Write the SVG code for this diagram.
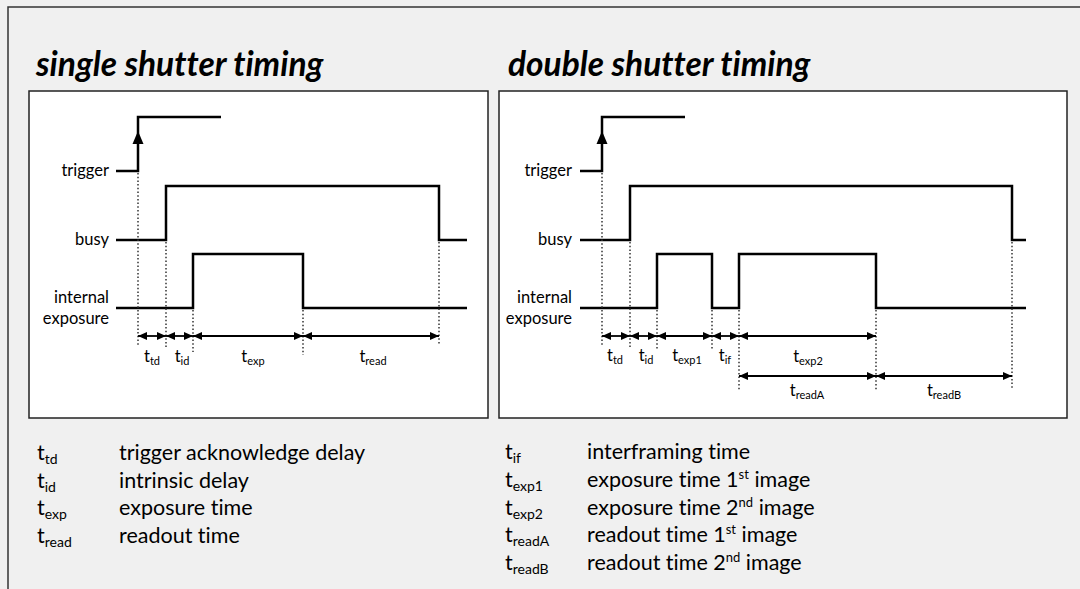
<svg xmlns="http://www.w3.org/2000/svg" width="1080" height="589" viewBox="0 0 1080 589">
  <defs>
    <!-- solid head for the dimension arrows, reused at both ends -->
    <marker id="head" viewBox="0 0 9 8" refX="9" refY="4" markerWidth="9" markerHeight="8" markerUnits="userSpaceOnUse" orient="auto-start-reverse">
      <path d="M0,0 L9,4 L0,8 z" fill="#000"/>
    </marker>
    <style>
      .bg { fill: #f0f0f0; }
      .frame { fill: none; stroke: #333; stroke-width: 1.5; }
      .panel { fill: #fff; stroke: #222; stroke-width: 1.5; }
      .sig { fill: none; stroke: #000; stroke-width: 2.5; stroke-linejoin: miter; }
      .dot { fill: none; stroke: #333; stroke-width: 1.5; stroke-dasharray: 1.5 2.2; }
      .dim { fill: none; stroke: #000; stroke-width: 1.8; marker-start: url(#head); marker-end: url(#head); }
      text { font-family: Lato, "Liberation Sans", sans-serif; fill: #000; font-variant-ligatures: none; }
      .title { font-size: 33.5px; font-weight: bold; font-style: italic; }
      .lab { font-size: 16.5px; text-anchor: end; }
      .tl { font-size: 16.5px; text-anchor: middle; }
      .sub { font-size: 11px; }
      .leg { font-size: 21.5px; }
      .lsub { font-size: 14px; }
      .sup { font-size: 13px; }
    </style>
  </defs>

  <rect class="bg" x="0" y="0" width="1080" height="589"/>
  <rect class="frame" x="8" y="7" width="1100" height="600"/>

  <text class="title" x="36" y="76">single shutter timing</text>
  <text class="title" x="508" y="76">double shutter timing</text>

  <!-- single shutter panel -->
  <g id="single-panel">
    <rect class="panel" x="29" y="91" width="459" height="327"/>
    <g id="single-trigger">
      <text class="lab" x="109" y="176">trigger</text>
      <path class="sig" d="M116,171 H138 V117 H221"/>
      <polygon points="138,131 132.5,144 143.5,144" fill="#000"/>
    </g>
    <g id="single-busy">
      <text class="lab" x="109" y="245">busy</text>
      <path class="sig" d="M116,240 H166 V186 H439 V240 H467"/>
    </g>
    <g id="single-exposure">
      <text class="lab" x="109" y="302.5">internal</text>
      <text class="lab" x="109" y="323.5">exposure</text>
      <path class="sig" d="M116,308 H193 V254 H303 V308 H467"/>
    </g>
    <g id="single-guides">
      <line class="dot" x1="138" y1="173" x2="138" y2="347"/>
      <line class="dot" x1="166" y1="242" x2="166" y2="348"/>
      <line class="dot" x1="193" y1="310" x2="193" y2="352"/>
      <line class="dot" x1="303" y1="310" x2="303" y2="355"/>
      <line class="dot" x1="439" y1="242" x2="439" y2="344"/>
    </g>
    <g id="single-labels">
      <text class="tl" x="152" y="362">t<tspan class="sub" dy="3">td</tspan></text>
      <text class="tl" x="182" y="362">t<tspan class="sub" dy="3">id</tspan></text>
      <text class="tl" x="253" y="362">t<tspan class="sub" dy="3">exp</tspan></text>
      <text class="tl" x="373" y="362">t<tspan class="sub" dy="3">read</tspan></text>
    </g>
  </g>

  <!-- double shutter panel -->
  <g id="double-panel">
    <rect class="panel" x="499" y="91" width="568" height="327"/>
    <g id="double-trigger">
      <text class="lab" x="572" y="176">trigger</text>
      <path class="sig" d="M580,171 H602 V117 H685"/>
      <polygon points="602,131 596.5,144 607.5,144" fill="#000"/>
    </g>
    <g id="double-busy">
      <text class="lab" x="572" y="245">busy</text>
      <path class="sig" d="M580,240 H630 V186 H1012 V240 H1026"/>
    </g>
    <g id="double-exposure">
      <text class="lab" x="572" y="302.5">internal</text>
      <text class="lab" x="572" y="323.5">exposure</text>
      <path class="sig" d="M580,308 H657 V254 H712 V308 H739 V254 H876 V308 H1026"/>
    </g>
    <g id="double-guides">
      <line class="dot" x1="602" y1="173" x2="602" y2="347"/>
      <line class="dot" x1="630" y1="242" x2="630" y2="348"/>
      <line class="dot" x1="657" y1="310" x2="657" y2="350"/>
      <line class="dot" x1="712" y1="310" x2="712" y2="350"/>
      <line class="dot" x1="739" y1="310" x2="739" y2="390"/>
      <line class="dot" x1="876" y1="310" x2="876" y2="390"/>
      <line class="dot" x1="1012" y1="242" x2="1012" y2="390"/>
    </g>
    <g id="double-labels">
      <text class="tl" x="615" y="361">t<tspan class="sub" dy="3">td</tspan></text>
      <text class="tl" x="646" y="361">t<tspan class="sub" dy="3">id</tspan></text>
      <text class="tl" x="687" y="361">t<tspan class="sub" dy="3">exp1</tspan></text>
      <text class="tl" x="725" y="361">t<tspan class="sub" dy="3">if</tspan></text>
      <text class="tl" x="808" y="362">t<tspan class="sub" dy="3">exp2</tspan></text>
      <text class="tl" x="807" y="396">t<tspan class="sub" dy="3">readA</tspan></text>
      <text class="tl" x="944" y="396">t<tspan class="sub" dy="3">readB</tspan></text>
    </g>
  </g>

  <!-- dimension arrows between the guide lines -->
  <g id="connectors">
    <line class="dim" x1="138" y1="336" x2="166" y2="336"/>
    <line class="dim" x1="166" y1="336" x2="193" y2="336"/>
    <line class="dim" x1="193" y1="336" x2="303" y2="336"/>
    <line class="dim" x1="303" y1="336" x2="439" y2="336"/>

    <line class="dim" x1="602" y1="336" x2="630" y2="336"/>
    <line class="dim" x1="630" y1="336" x2="657" y2="336"/>
    <line class="dim" x1="657" y1="336" x2="712" y2="336"/>
    <line class="dim" x1="712" y1="336" x2="739" y2="336"/>
    <line class="dim" x1="739" y1="336" x2="876" y2="336"/>
    <line class="dim" x1="739" y1="376" x2="876" y2="376"/>
    <line class="dim" x1="876" y1="376" x2="1012" y2="376"/>
  </g>

  <!-- legends -->
  <g id="legend-single">
    <text class="leg" x="37" y="460">t<tspan class="lsub" dy="4">td</tspan></text>
    <text class="leg" x="119" y="460">trigger acknowledge delay</text>
    <text class="leg" x="37" y="487.7">t<tspan class="lsub" dy="4">id</tspan></text>
    <text class="leg" x="119" y="487.7">intrinsic delay</text>
    <text class="leg" x="37" y="515.4">t<tspan class="lsub" dy="4">exp</tspan></text>
    <text class="leg" x="119" y="515.4">exposure time</text>
    <text class="leg" x="37" y="543">t<tspan class="lsub" dy="4">read</tspan></text>
    <text class="leg" x="119" y="543">readout time</text>
  </g>
  <g id="legend-double">
    <text class="leg" x="505" y="459.3">t<tspan class="lsub" dy="4">if</tspan></text>
    <text class="leg" x="587" y="459.3">interframing time</text>
    <text class="leg" x="505" y="487">t<tspan class="lsub" dy="4">exp1</tspan></text>
    <text class="leg" x="587" y="487">exposure time 1<tspan class="sup" dy="-8">st</tspan><tspan dy="8"> image</tspan></text>
    <text class="leg" x="505" y="514.7">t<tspan class="lsub" dy="4">exp2</tspan></text>
    <text class="leg" x="587" y="514.7">exposure time 2<tspan class="sup" dy="-8">nd</tspan><tspan dy="8"> image</tspan></text>
    <text class="leg" x="505" y="542.4">t<tspan class="lsub" dy="4">readA</tspan></text>
    <text class="leg" x="587" y="542.4">readout time 1<tspan class="sup" dy="-8">st</tspan><tspan dy="8"> image</tspan></text>
    <text class="leg" x="505" y="570">t<tspan class="lsub" dy="4">readB</tspan></text>
    <text class="leg" x="587" y="570">readout time 2<tspan class="sup" dy="-8">nd</tspan><tspan dy="8"> image</tspan></text>
  </g>
</svg>
